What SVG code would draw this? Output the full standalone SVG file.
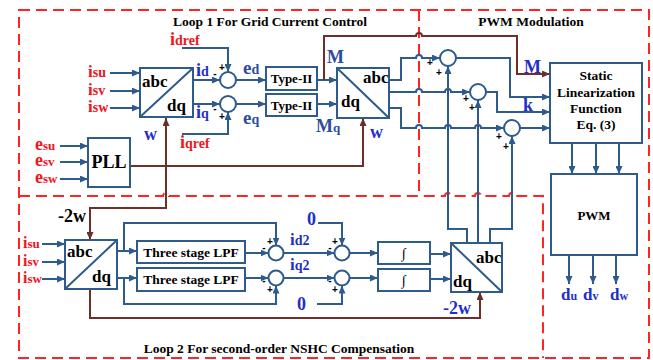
<svg xmlns="http://www.w3.org/2000/svg" width="653" height="360" viewBox="0 0 653 360">
<defs>
<style>
text{font-family:"Liberation Serif","Times New Roman",serif;font-weight:bold}
.bx{fill:#fff;stroke:#2E5A8C;stroke-width:2}
.ln{fill:none;stroke:#2E5A8C;stroke-width:2}
.br{fill:none;stroke:#6E2E2A;stroke-width:2}
.dash{fill:none;stroke:#FF2424;stroke-width:2;stroke-dasharray:11 6}
.red{fill:#F0141E}
.blu{fill:#1F2FC8}
.blu2{fill:#2B4D9E}
.blk{fill:#000}
.sg{font-family:"Liberation Sans",Arial,sans-serif;font-size:10px;fill:#000;text-anchor:middle}
.ttl{font-size:13.5px;fill:#000}
.mid{text-anchor:middle}
</style>
<marker id="ab" markerWidth="8" markerHeight="7" refX="8" refY="3.5" orient="auto" markerUnits="userSpaceOnUse"><path d="M0,0 L8,3.5 L0,7 z" fill="#2E5A8C"/></marker>
<marker id="ar" markerWidth="8" markerHeight="7" refX="8" refY="3.5" orient="auto" markerUnits="userSpaceOnUse"><path d="M0,0 L8,3.5 L0,7 z" fill="#6E2E2A"/></marker>
</defs>

<g id="regions">
<rect class="dash" x="19" y="10" width="630" height="348"/>
<path class="dash" d="M419,10 V196"/>
<path class="dash" d="M19,196 H163 a3,3 0 0 1 6,0 H445 a3,3 0 0 1 6,0 H475 a3,3 0 0 1 6,0 H509 a3,3 0 0 1 6,0 H543 V358"/>
<text class="ttl" x="270" y="26" text-anchor="middle">Loop 1 For Grid Current Control</text>
<text class="ttl" x="531" y="26" text-anchor="middle">PWM Modulation</text>
<text class="ttl" x="279" y="353" text-anchor="middle">Loop 2 For second-order NSHC Compensation</text>
</g>

<g id="connectors">
<path class="ln" marker-end="url(#ab)" d="M110,73 H140"/>
<path class="ln" marker-end="url(#ab)" d="M110,91 H140"/>
<path class="ln" marker-end="url(#ab)" d="M110,108 H140"/>
<path class="ln" marker-end="url(#ab)" d="M60,146 H88"/>
<path class="ln" marker-end="url(#ab)" d="M60,162 H88"/>
<path class="ln" marker-end="url(#ab)" d="M60,179 H88"/>
<path class="ln" marker-end="url(#ab)" d="M193,80 H220"/>
<path class="ln" marker-end="url(#ab)" d="M193,104 H220"/>
<path class="ln" marker-end="url(#ab)" d="M182,48 H228 V72"/>
<path class="ln" marker-end="url(#ab)" d="M182,134 H228 V112"/>
<path class="ln" marker-end="url(#ab)" d="M236,80 H266"/>
<path class="ln" marker-end="url(#ab)" d="M236,104 H266"/>
<path class="ln" marker-end="url(#ab)" d="M317,80 H337"/>
<path class="ln" marker-end="url(#ab)" d="M317,104 H337"/>
<path class="br" marker-end="url(#ar)" d="M130,166 H363 V118"/>
<path class="br" marker-end="url(#ar)" d="M166,166 V118"/>
<path class="br" marker-end="url(#ar)" d="M166,166 V208 H90 V240"/>
<path class="br" marker-end="url(#ar)" d="M324,80 V36 H416 a3,3 0 0 1 6,0 H517 V74 H550"/>
<path class="ln" marker-end="url(#ab)" d="M389,80 H401 V58 H416 a3,3 0 0 1 6,0 H440"/>
<path class="ln" marker-end="url(#ab)" d="M389,92 H416 a3,3 0 0 1 6,0 H445 a3,3 0 0 1 6,0 H470"/>
<path class="ln" marker-end="url(#ab)" d="M389,108 H401 V128 H416 a3,3 0 0 1 6,0 H445 a3,3 0 0 1 6,0 H475 a3,3 0 0 1 6,0 H504"/>
<path class="ln" marker-end="url(#ab)" d="M456,58 H510 V97 H550"/>
<path class="ln" marker-end="url(#ab)" d="M486,92 H497 V112 H550"/>
<path class="ln" marker-end="url(#ab)" d="M520,128 H550"/>
<path class="ln" marker-end="url(#ab)" d="M467,243 V229 H448 V66"/>
<path class="ln" marker-end="url(#ab)" d="M478,243 V100"/>
<path class="ln" marker-end="url(#ab)" d="M490,243 V229 H512 V136"/>
<path class="ln" marker-end="url(#ab)" d="M572,143 V174"/>
<path class="ln" marker-end="url(#ab)" d="M596,143 V174"/>
<path class="ln" marker-end="url(#ab)" d="M619,143 V174"/>
<path class="ln" marker-end="url(#ab)" d="M569,255 V284"/>
<path class="ln" marker-end="url(#ab)" d="M593,255 V284"/>
<path class="ln" marker-end="url(#ab)" d="M616,255 V284"/>
<path class="ln" marker-end="url(#ab)" d="M42,244 H65"/>
<path class="ln" marker-end="url(#ab)" d="M42,262 H65"/>
<path class="ln" marker-end="url(#ab)" d="M42,279 H65"/>
<path class="ln" marker-end="url(#ab)" d="M117,251 H137"/>
<path class="ln" marker-end="url(#ab)" d="M117,278 H137"/>
<path class="ln" marker-end="url(#ab)" d="M124,251 V223 H276 V245.5"/>
<path class="ln" marker-end="url(#ab)" d="M124,278 V304 H276 V285.5"/>
<path class="ln" marker-end="url(#ab)" d="M245,253 H268.5"/>
<path class="ln" marker-end="url(#ab)" d="M245,278 H268.5"/>
<path class="ln" marker-end="url(#ab)" d="M283.5,253 H334.5"/>
<path class="ln" marker-end="url(#ab)" d="M283.5,278 H334.5"/>
<path class="ln" marker-end="url(#ab)" d="M318,223 H342 V245.5"/>
<path class="ln" marker-end="url(#ab)" d="M317,304 H342 V285.5"/>
<path class="ln" marker-end="url(#ab)" d="M349.5,253 H378"/>
<path class="ln" marker-end="url(#ab)" d="M349.5,278 H378"/>
<path class="ln" marker-end="url(#ab)" d="M430,254 H451"/>
<path class="ln" marker-end="url(#ab)" d="M430,279 H451"/>
<path class="br" marker-end="url(#ar)" d="M90,289 V318 H480 V292"/>
</g>

<g id="abcdq1">
<rect class="bx" x="140" y="68" width="53" height="49"/>
<path class="ln" d="M140,117 L193,68"/>
<text class="blk" x="142" y="87" font-size="17">abc</text>
<text class="blk" x="167" y="111" font-size="17">dq</text>
</g>
<g id="pll">
<rect class="bx" x="88" y="138" width="42" height="49"/>
<text class="blk mid" x="109" y="168" font-size="18">PLL</text>
</g>
<g id="sum1"><circle class="bx" cx="228" cy="80" r="8"/><text class="sg" x="222" y="71">+</text><text class="sg" x="215" y="77">-</text></g>
<g id="sum2"><circle class="bx" cx="228" cy="104" r="8"/><text class="sg" x="215" y="112">-</text><text class="sg" x="222" y="120">+</text></g>
<g id="typeII1"><rect class="bx" x="266" y="67" width="51" height="23"/><text class="blk mid" x="291.5" y="83" font-size="13">Type-II</text></g>
<g id="typeII2"><rect class="bx" x="266" y="94" width="51" height="22"/><text class="blk mid" x="291.5" y="109.5" font-size="13">Type-II</text></g>
<g id="dqabc1">
<rect class="bx" x="337" y="68" width="52" height="50"/>
<path class="ln" d="M337,68 L389,118"/>
<text class="blk" x="363" y="83" font-size="17">abc</text>
<text class="blk" x="341" y="107" font-size="17">dq</text>
</g>
<g id="sumP1"><circle class="bx" cx="448" cy="58" r="8"/><text class="sg" x="430" y="66">+</text><text class="sg" x="439" y="76">+</text></g>
<g id="sumP2"><circle class="bx" cx="478" cy="92" r="8"/><text class="sg" x="466" y="102">+</text><text class="sg" x="472" y="111">+</text></g>
<g id="sumP3"><circle class="bx" cx="512" cy="128" r="8"/><text class="sg" x="499" y="140">+</text><text class="sg" x="506" y="150">+</text></g>
<g id="static">
<rect class="bx" x="550" y="63" width="92" height="80"/>
<text class="blk mid" x="596" y="80" font-size="13.5">Static</text>
<text class="blk mid" x="596" y="96.5" font-size="13.5">Linearization</text>
<text class="blk mid" x="596" y="113" font-size="13.5">Function</text>
<text class="blk mid" x="596" y="129" font-size="13.5">Eq. (3)</text>
</g>
<g id="pwm">
<rect class="bx" x="551" y="174" width="86" height="81"/>
<text class="blk mid" x="594" y="220" font-size="13">PWM</text>
</g>
<g id="abcdq2">
<rect class="bx" x="65" y="240" width="52" height="49"/>
<path class="ln" d="M65,289 L117,240"/>
<text class="blk" x="67" y="257" font-size="17">abc</text>
<text class="blk" x="92" y="282" font-size="17">dq</text>
</g>
<g id="lpf1"><rect class="bx" x="137" y="241" width="108" height="22"/><text class="blk mid" x="191" y="256.5" font-size="13.5">Three stage LPF</text></g>
<g id="lpf2"><rect class="bx" x="137" y="268" width="108" height="23"/><text class="blk mid" x="191" y="284" font-size="13.5">Three stage LPF</text></g>
<g id="sumL1"><circle class="bx" cx="276" cy="253" r="7.5"/><text class="sg" x="270" y="245">+</text><text class="sg" x="264" y="251">-</text></g>
<g id="sumL2"><circle class="bx" cx="276" cy="278" r="7.5"/><text class="sg" x="264" y="284">-</text><text class="sg" x="270" y="293">+</text></g>
<g id="sumL3"><circle class="bx" cx="342" cy="253" r="7.5"/><text class="sg" x="335" y="245">+</text><text class="sg" x="330" y="251">-</text></g>
<g id="sumL4"><circle class="bx" cx="342" cy="278" r="7.5"/><text class="sg" x="330" y="284">-</text><text class="sg" x="335" y="293">+</text></g>
<g id="int1"><rect class="bx" x="378" y="242" width="52" height="22"/><text class="blk mid" x="404" y="258" font-size="14">∫</text></g>
<g id="int2"><rect class="bx" x="378" y="269" width="52" height="22"/><text class="blk mid" x="404" y="285" font-size="14">∫</text></g>
<g id="dqabc2">
<rect class="bx" x="451" y="243" width="51" height="49"/>
<path class="ln" d="M451,243 L502,292"/>
<text class="blk" x="476" y="263" font-size="17">abc</text>
<text class="blk" x="453" y="287" font-size="17">dq</text>
</g>

<g id="labels">
<text class="red" x="88" y="77"><tspan font-size="17">i</tspan><tspan font-size="14">su</tspan></text>
<text class="red" x="88" y="95"><tspan font-size="17">i</tspan><tspan font-size="14">sv</tspan></text>
<text class="red" x="88" y="112"><tspan font-size="17">i</tspan><tspan font-size="14">sw</tspan></text>
<text class="red" x="35" y="150"><tspan font-size="18">e</tspan><tspan font-size="13">su</tspan></text>
<text class="red" x="35" y="166"><tspan font-size="18">e</tspan><tspan font-size="13">sv</tspan></text>
<text class="red" x="35" y="183"><tspan font-size="18">e</tspan><tspan font-size="13">sw</tspan></text>
<text class="red" x="170" y="45"><tspan font-size="18">i</tspan><tspan font-size="14">dref</tspan></text>
<text class="red" x="180" y="148"><tspan font-size="18">i</tspan><tspan font-size="14">qref</tspan></text>
<text class="blu" x="196" y="76"><tspan font-size="18">i</tspan><tspan font-size="14">d</tspan></text>
<text class="blu" x="196" y="118"><tspan font-size="18">i</tspan><tspan font-size="14">q</tspan></text>
<text class="blu" x="144" y="140" font-size="18">w</text>
<text class="blu2" x="243" y="74"><tspan font-size="19">e</tspan><tspan font-size="14">d</tspan></text>
<text class="blu2" x="243" y="124"><tspan font-size="19">e</tspan><tspan font-size="14">q</tspan></text>
<text class="blu2" x="327" y="63" font-size="18">M</text>
<text class="blu2" x="316" y="132"><tspan font-size="18">M</tspan><tspan font-size="13">q</tspan></text>
<text class="blu" x="370" y="138" font-size="18">w</text>
<text class="blu" x="524" y="73" font-size="18">M</text>
<text class="blu" x="523" y="111" font-size="18">k</text>
<text class="blu" x="561" y="300"><tspan font-size="17">d</tspan><tspan font-size="12">u</tspan></text>
<text class="blu" x="583" y="300"><tspan font-size="17">d</tspan><tspan font-size="12">v</tspan></text>
<text class="blu" x="610" y="300"><tspan font-size="17">d</tspan><tspan font-size="12">w</tspan></text>
<text class="blk" x="58" y="222" font-size="18">-2w</text>
<text class="red" x="23" y="248"><tspan font-size="16">i</tspan><tspan font-size="13">su</tspan></text>
<text class="red" x="23" y="266"><tspan font-size="16">i</tspan><tspan font-size="13">sv</tspan></text>
<text class="red" x="23" y="283"><tspan font-size="16">i</tspan><tspan font-size="13">sw</tspan></text>
<text class="blu" x="290" y="245"><tspan font-size="17">i</tspan><tspan font-size="14">d2</tspan></text>
<text class="blu" x="290" y="270"><tspan font-size="17">i</tspan><tspan font-size="14">q2</tspan></text>
<text class="blu" x="307" y="225" font-size="18">0</text>
<text class="blu" x="297" y="310" font-size="18">0</text>
<text class="blu" x="443" y="314" font-size="18">-2w</text>
</g>
</svg>
